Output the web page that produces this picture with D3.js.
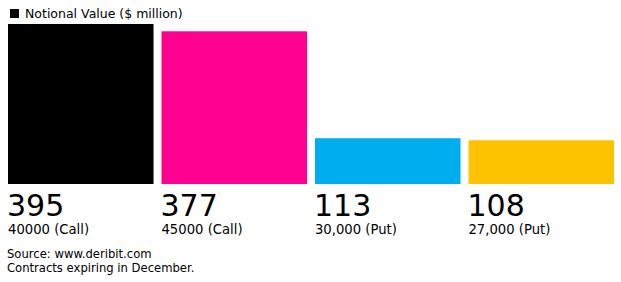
<!DOCTYPE html>
<html>
  <head>
    <meta charset="utf-8" />
    <script src="https://d3js.org/d3.v7.min.js"></script>
    <style>
      body { margin: 0; background: #fff; }
      text { font-family: "DejaVu Sans", sans-serif; fill: #000; }
    </style>
  </head>
  <body>
    <svg id="chart" width="621" height="282"></svg>
  <script>

  var strikes = ["40000 (Call)", "45000 (Call)", "30,000 (Put)", "27,000 (Put)"];
  var notional = [395, 377, 113, 108];
  var colours = ["#000000", "#ff0090", "#00adef", "#fdc300"];

  var svg = d3.select("#chart");

  var x = d3.scaleBand()
    .domain(strikes)
    .range([8, 614])
    .paddingInner(0.052)
    .paddingOuter(0);

  var y = d3.scaleLinear()
    .domain([0, 395])
    .range([184, 24]);

  // legend / title
  svg.append("rect")
    .attr("x", 10).attr("y", 9)
    .attr("width", 9).attr("height", 9)
    .attr("fill", "#000");
  svg.append("text")
    .attr("x", 25).attr("y", 18)
    .attr("font-size", 12.5)
    .text("Notional Value ($ million)");

  svg.selectAll(".bar")
    .data(strikes)
    .enter().append("rect")
    .attr("class", "bar")
    .attr("x", function(d) { return x(d); })
    .attr("y", function(d, i) { return y(notional[i]); })
    .attr("width", x.bandwidth())
    .attr("height", function(d, i) { return y(0) - y(notional[i]); })
    .attr("fill", function(d, i) { return colours[i]; });

  // big value labels
  svg.selectAll(".value")
    .data(strikes)
    .enter().append("text")
    .attr("class", "value")
    .attr("x", function(d) { return x(d) - 1; })
    .attr("y", 216)
    .attr("font-size", 30)
    .text(function(d, i) { return notional[i]; });

  // strike labels
  svg.selectAll(".strike")
    .data(strikes)
    .enter().append("text")
    .attr("class", "strike")
    .attr("x", function(d) { return x(d); })
    .attr("y", 234)
    .attr("font-size", 13.2)
    .text(function(d) { return d; });

  svg.append("text")
    .attr("x", 7).attr("y", 258)
    .attr("font-size", 11.6)
    .text("Source: www.deribit.com");
  svg.append("text")
    .attr("x", 7).attr("y", 272)
    .attr("font-size", 11.6)
    .text("Contracts expiring in December.");

  </script>
  </body>
</html>
